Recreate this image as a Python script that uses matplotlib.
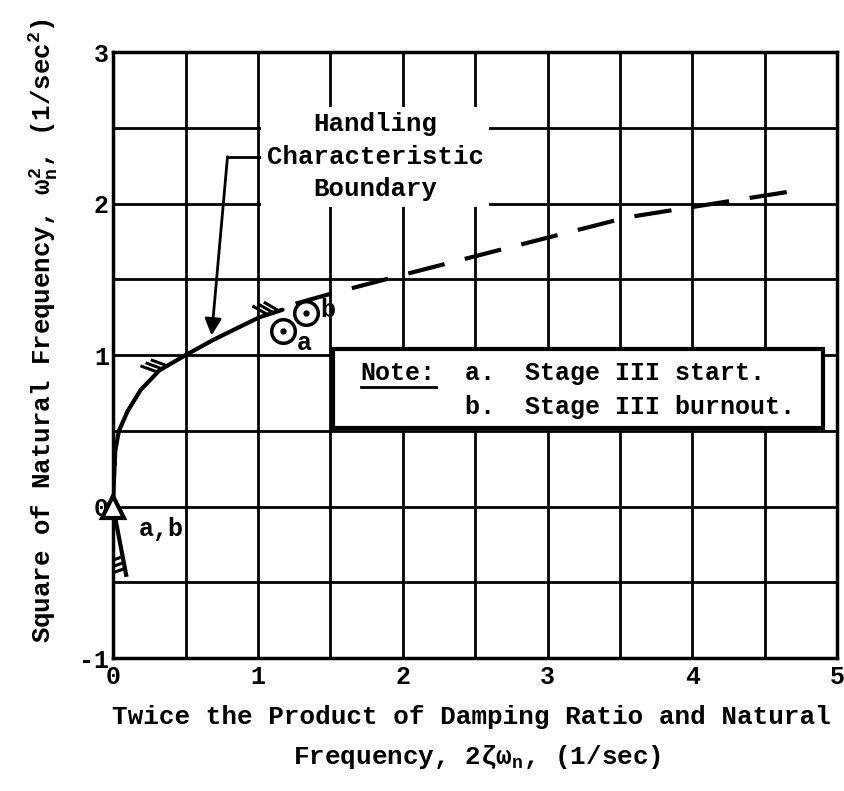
import matplotlib

matplotlib.use("Agg")
import matplotlib.pyplot as plt
import numpy as np
from matplotlib.lines import Line2D
from matplotlib.patches import Rectangle

# boundary curve
solid_x = [0.0, 0.005, 0.015, 0.04, 0.10, 0.19, 0.32, 0.50, 0.69, 0.86, 1.01, 1.17]
solid_y = [0.0, 0.15, 0.37, 0.50, 0.63, 0.77, 0.90, 1.00, 1.10, 1.18, 1.25, 1.30]
dash_x = [1.26, 1.52, 2.00, 2.65, 3.55, 4.74]
dash_y = [1.34, 1.41, 1.53, 1.69, 1.91, 2.09]
lower_x = [0.0, 0.09]
lower_y = [0.0, -0.45]

# flight points
tri_x, tri_y = [0.0], [0.0]
circ_x = [1.17, 1.33]
circ_y = [1.16, 1.28]
circ_labels = ["a", "b"]

x_ticks = [0, 1, 2, 3, 4, 5]
y_ticks = [-1, 0, 1, 2, 3]
note_lines = ["a.  Stage III start.", "b.  Stage III burnout."]

FONT = "Liberation Mono"
plt.rcParams["font.family"] = [FONT, "DejaVu Sans"]
plt.rcParams["font.weight"] = "bold"
plt.rcParams["axes.labelweight"] = "bold"
plt.rcParams["axes.unicode_minus"] = False
plt.rcParams["mathtext.fontset"] = "custom"
plt.rcParams["mathtext.rm"] = FONT + ":bold"
plt.rcParams["mathtext.it"] = FONT + ":bold"
plt.rcParams["mathtext.bf"] = FONT + ":bold"

fig = plt.figure(figsize=(8.44, 7.91), dpi=100)
ax = fig.add_axes([0.134, 0.168, 0.858, 0.766])
ax.set_xlim(0, 5)
ax.set_ylim(-1, 3)

ax.set_xticks(x_ticks)
ax.set_yticks(y_ticks)
ax.set_xticks(np.arange(0, 5.01, 0.5), minor=True)
ax.set_yticks(np.arange(-1, 3.01, 0.5), minor=True)
ax.grid(True, which="both", color="black", linewidth=2.0)
ax.set_axisbelow(True)
ax.tick_params(which="both", length=0)
ax.tick_params(axis="x", pad=5, labelsize=18)
ax.tick_params(axis="y", pad=3, labelsize=18)
for s in ax.spines.values():
    s.set_linewidth(2.5)

ax.plot(solid_x, solid_y, color="black", lw=3, solid_capstyle="round", zorder=4)
ax.plot(dash_x, dash_y, color="black", lw=3, dashes=(9, 5), zorder=4)
ax.plot(lower_x, lower_y, color="black", lw=3, zorder=4)

# hatch ticks on the outside of the boundary
fig.canvas.draw()


def hatch(xs, ys, idx, frac, angle, n=3, length=16, gap=6):
    p0 = ax.transData.transform((xs[idx], ys[idx]))
    p1 = ax.transData.transform((xs[idx + 1], ys[idx + 1]))
    t = (p1 - p0) / np.hypot(*(p1 - p0))
    base = p0 + frac * (p1 - p0)
    a = np.deg2rad(angle)
    d = np.array([np.cos(a), np.sin(a)])
    inv = ax.transData.inverted()
    for k in range(n):
        start = base + (k - (n - 1) / 2) * gap * t
        end = start + length * d
        seg = inv.transform([start, end])
        ax.plot(seg[:, 0], seg[:, 1], color="black", lw=2.2, zorder=4)


hatch(solid_x, solid_y, 10, 0.6, 150)
hatch(solid_x, solid_y, 6, 0.1, 160)
hatch(solid_x, solid_y, 1, 0.8, 180)
hatch(lower_x, lower_y, 0, 0.82, 200)

ax.plot(tri_x, tri_y, marker="^", ms=16, mfc="white", mec="black", mew=3,
        ls="none", zorder=5, clip_on=False)
ax.text(0.18, -0.07, "a,b", fontsize=18, va="top", ha="left")

ax.plot(circ_x, circ_y, marker="o", ms=17, mfc="white", mec="black", mew=2.5,
        ls="none", zorder=5)
ax.plot(circ_x, circ_y, marker="o", ms=3.5, color="black", ls="none", zorder=6)
ax.text(circ_x[0] + 0.1, circ_y[0] - 0.08, circ_labels[0], fontsize=18,
        ha="left", va="center", zorder=6)
ax.text(circ_x[1] + 0.1, circ_y[1] + 0.02, circ_labels[1], fontsize=18,
        ha="left", va="center", zorder=6)

# note box
ax.add_patch(Rectangle((1.52, 0.52), 3.38, 0.52, facecolor="white",
                       edgecolor="black", lw=3, zorder=6))
note = ax.text(1.71, 0.885, "Note:", fontsize=18, ha="left", va="center",
               zorder=7)
ax.text(2.43, 0.885, note_lines[0], fontsize=18, ha="left", va="center",
        zorder=7)
ax.text(2.43, 0.66, note_lines[1], fontsize=18, ha="left", va="center",
        zorder=7)

# handling boundary label
ax.text(1.81, 2.31, "Handling\nCharacteristic\nBoundary", fontsize=18.5,
        ha="center", va="center", linespacing=1.45, zorder=7,
        bbox=dict(facecolor="white", edgecolor="none", pad=4))
ax.plot([1.05, 0.79], [2.31, 2.31], color="black", lw=2, zorder=6)
ax.annotate("", xy=(0.68, 1.13), xytext=(0.79, 2.31),
            arrowprops=dict(arrowstyle="-|>", color="black", lw=2,
                            mutation_scale=25, shrinkA=0, shrinkB=0), zorder=6)

ax.set_ylabel(r"Square of Natural Frequency, $\omega_n^2$, (1/sec$^2$)",
              fontsize=18.5)
ax.yaxis.set_label_coords(-0.074, 0.54)
fig.text(0.559, 0.0935, "Twice the Product of Damping Ratio and Natural",
         fontsize=18.7, ha="center", va="center")
fig.text(0.565, 0.043, r"Frequency, 2$\zeta\omega_n$, (1/sec)",
         fontsize=18.7, ha="center", va="center")

# underline "Note:"
fig.canvas.draw()
bb = note.get_window_extent()
fig.add_artist(Line2D([bb.x0, bb.x1], [bb.y0 - 2, bb.y0 - 2], lw=2,
                      color="black", transform=None, zorder=8))

fig.savefig("out.png", dpi=100)
